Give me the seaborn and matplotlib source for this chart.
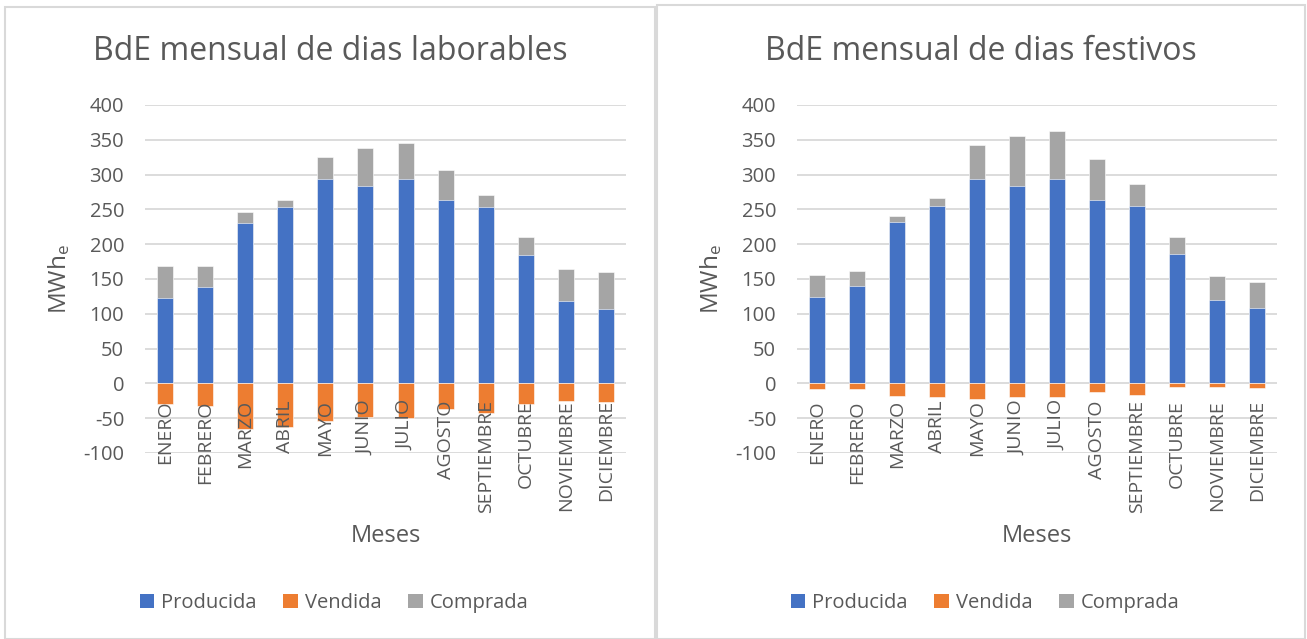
import matplotlib
matplotlib.use("Agg")
import matplotlib.pyplot as plt
from matplotlib.patches import Patch, Rectangle
import seaborn as sns

meses = ["ENERO", "FEBRERO", "MARZO", "ABRIL", "MAYO", "JUNIO", "JULIO",
         "AGOSTO", "SEPTIEMBRE", "OCTUBRE", "NOVIEMBRE", "DICIEMBRE"]

# Días laborables
lab_producida = [123, 139, 231, 254, 293, 284, 293, 263, 254, 185, 119, 107]
lab_vendida = [-30, -32, -65, -62, -54, -48, -50, -37, -42, -29, -26, -27]
lab_comprada = [46, 30, 15, 9, 33, 54, 53, 44, 16, 26, 46, 53]

# Días festivos
fes_producida = [124, 140, 232, 255, 294, 284, 294, 263, 255, 186, 120, 109]
fes_vendida = [-8, -8, -18, -20, -22, -20, -20, -13, -17, -5, -5, -7]
fes_comprada = [32, 21, 8, 12, 49, 72, 68, 59, 31, 25, 34, 37]

titulos = ["BdE mensual de dias laborables", "BdE mensual de dias festivos"]
series_names = ["Producida", "Vendida", "Comprada"]
yticks = [-100, -50, 0, 50, 100, 150, 200, 250, 300, 350, 400]

BLUE, ORANGE, GREY = "#4472C4", "#ED7D31", "#A5A5A5"
TXT = "#595959"
GRID = "#D9D9D9"

sns.set_theme(style="white")
plt.rcParams["font.family"] = ["Open Sans", "DejaVu Sans"]
plt.rcParams["mathtext.default"] = "regular"

W, H = 1307, 639
fig = plt.figure(figsize=(W / 100, H / 100), dpi=100)

# panel borders
for (x0, y0, x1) in [(5, 7, 655), (657, 5, 1305)]:
    fig.patches.append(Rectangle((x0 / W, 0), (x1 - x0) / W, 1 - y0 / H,
                                 transform=fig.transFigure, fill=False,
                                 edgecolor="#D9D9D9", linewidth=1.5))

panels = [
    dict(prod=lab_producida, vend=lab_vendida, comp=lab_comprada,
         left=145, right=626, cx=330),
    dict(prod=fes_producida, vend=fes_vendida, comp=fes_comprada,
         left=797, right=1277, cx=981),
]

top_px, bot_px = 105, 453
for i, p in enumerate(panels):
    ax = fig.add_axes([p["left"] / W, 1 - bot_px / H,
                       (p["right"] - p["left"]) / W, (bot_px - top_px) / H])
    for v in yticks:
        ax.axhline(v, color=GRID, linewidth=1.3, zorder=0.5)
    total = [a + b for a, b in zip(p["prod"], p["comp"])]
    sns.barplot(x=meses, y=total, color=GREY, saturation=1, width=0.4,
                errorbar=None, ax=ax, edgecolor="white", linewidth=0.4, zorder=1)
    sns.barplot(x=meses, y=p["prod"], color=BLUE, saturation=1, width=0.4,
                errorbar=None, ax=ax, edgecolor="white", linewidth=0.4, zorder=1.1)
    sns.barplot(x=meses, y=p["vend"], color=ORANGE, saturation=1, width=0.4,
                errorbar=None, ax=ax, edgecolor="white", linewidth=0.4, zorder=1.1)
    ax.set_ylim(-100, 400)
    ax.set_xlim(-0.5, 11.5)
    ax.set_yticks(yticks)
    ax.set_yticklabels([str(v) for v in yticks])
    ax.grid(False)
    ax.set_axisbelow(False)
    for s in ax.spines.values():
        s.set_visible(False)
    ax.spines["bottom"].set_position(("data", 0))
    ax.tick_params(axis="y", length=0, pad=15, labelsize=14.5, labelcolor=TXT)
    ax.tick_params(axis="x", length=0, pad=12, labelsize=14, labelcolor=TXT,
                   labelrotation=90)
    for lbl in ax.get_xticklabels():
        lbl.set_va("top")
    ax.set_xlabel("Meses", fontsize=17, color=TXT)
    ax.xaxis.set_label_coords(0.5, -0.205)
    ax.set_ylabel("MWh$_{e}$", fontsize=17.5, color=TXT)
    ax.yaxis.set_label_coords(-0.152, 0.5)

    fig.text(p["cx"] / W, 1 - 51 / H, titulos[i], ha="center", va="center",
             fontsize=23, color=TXT)

    handles = [Patch(facecolor=c, edgecolor="none") for c in (BLUE, ORANGE, GREY)]
    fig.legend(handles, series_names, loc="center", ncol=3, frameon=False,
               bbox_to_anchor=((p["cx"] + 4) / W, 1 - 603 / H),
               fontsize=14.5, labelcolor=TXT, handlelength=0.7, handleheight=0.7,
               handletextpad=0.35, columnspacing=1.35)

fig.savefig("out.png", dpi=100)
